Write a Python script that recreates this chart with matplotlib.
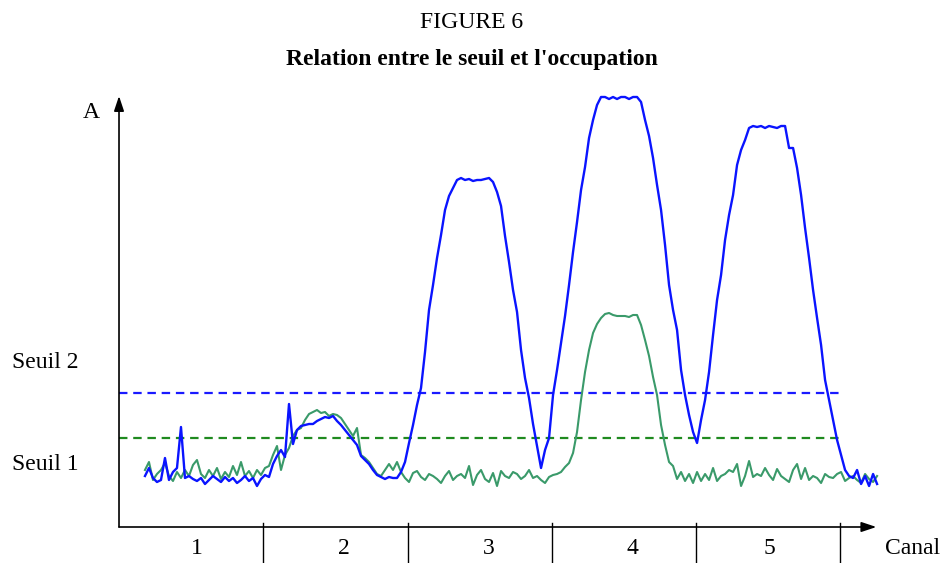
import numpy as np
import matplotlib
matplotlib.use("Agg")
import matplotlib.pyplot as plt

plt.rcParams["font.family"] = ["Liberation Serif", "DejaVu Serif"]

# samples evenly spaced along the canal axis (channel k spans k-1 .. k)
x_start, x_end = 0.18, 5.255

# amplitude, green trace (occupation, seuil 1)
green_a = [
    57, 65, 47, 53, 57, 64, 51, 46, 55, 49,
    57, 51, 62, 67, 53, 49, 57, 51, 59, 48,
    55, 50, 61, 52, 65, 51, 56, 49, 57, 52,
    59, 61, 72, 81, 57, 72, 79, 91, 97, 99,
    107, 113, 115, 117, 114, 115, 111, 113, 112, 109,
    103, 97, 91, 99, 72, 69, 65, 59, 53, 51,
    57, 63, 57, 65, 55, 49, 45, 54, 56, 50,
    47, 53, 51, 48, 44, 51, 56, 47, 51, 53,
    49, 61, 42, 52, 57, 48, 45, 54, 41, 56,
    51, 49, 55, 53, 48, 51, 57, 49, 51, 47,
    44, 50, 52, 53, 55, 60, 64, 74, 95, 127,
    155, 177, 194, 203, 209, 213, 214, 212, 211, 211,
    211, 210, 212, 212, 202, 187, 171, 150, 132, 102,
    82, 65, 61, 48, 55, 46, 53, 44, 55, 46,
    53, 47, 59, 46, 51, 53, 57, 55, 63, 41,
    51, 66, 50, 53, 51, 59, 52, 47, 58, 51,
    48, 45, 57, 63, 48, 59, 47, 51, 49, 44,
    53, 50, 49, 53, 55, 46, 49, 51, 47, 44,
    53, 48, 45, 51,
]

# amplitude, blue trace (seuil 2)
blue_a = [
    51, 59, 49, 45, 47, 69, 47, 55, 59, 100,
    49, 51, 48, 46, 49, 43, 47, 51, 48, 45,
    50, 46, 49, 44, 47, 51, 46, 49, 41, 48,
    52, 50, 63, 71, 77, 70, 123, 83, 97, 101,
    102, 103, 103, 106, 108, 110, 109, 111, 106, 102,
    97, 92, 87, 82, 71, 67, 63, 57, 52, 50,
    48, 50, 49, 49, 55, 65, 84, 102, 122, 139,
    175, 217, 242, 269, 292, 317, 331, 339, 347, 349,
    347, 348, 346, 347, 347, 348, 349, 345, 335, 321,
    291, 265, 237, 215, 177, 149, 129, 103, 81, 59,
    77, 89, 132, 157, 184, 211, 242, 275, 305, 337,
    360, 389, 407, 422, 430, 430, 428, 430, 428, 430,
    430, 428, 430, 430, 425, 407, 391, 369, 342, 317,
    282, 242, 217, 197, 157, 132, 112, 95, 84, 107,
    127, 155, 192, 227, 252, 287, 312, 332, 362, 377,
    387, 399, 401, 400, 401, 399, 401, 400, 399, 401,
    401, 379, 379, 359, 332, 299, 269, 237, 209, 182,
    147, 127, 107, 87, 72, 57, 51, 49, 57, 43,
    51, 41, 53, 43,
]

seuil_1 = 89
seuil_2 = 134
canaux = ["1", "2", "3", "4", "5"]
canal_label_x = [0.54, 1.56, 2.56, 3.56, 4.51]

fig = plt.figure(figsize=(9.43, 5.63), dpi=100)
ax = fig.add_axes([0, 0, 1, 1])
ax.set_xlim(-0.825, 5.712)
ax.set_ylim(-36, 527)
ax.axis("off")

xg = np.linspace(x_start, x_end, len(green_a))
xb = np.linspace(x_start, x_end, len(blue_a))

# thresholds
ax.plot([0, 5.0], [seuil_2, seuil_2], color="#1a1aff", lw=1.6,
        dashes=(3.8, 2.6), zorder=1)
ax.plot([0, 4.99], [seuil_1, seuil_1], color="#1f8a1f", lw=1.6,
        dashes=(3.8, 2.6), zorder=1)

ax.plot(xg, green_a, color="#3a9a6a", lw=1.5, zorder=2)
ax.plot(xb, blue_a, color="#0a14ff", lw=1.7, zorder=3)

# axes with arrows
ax.annotate("", xy=(5.25, 0), xytext=(0, 0),
            arrowprops=dict(arrowstyle="-|>,head_length=0.9,head_width=0.3",
                            color="black", lw=1.2, shrinkA=0, shrinkB=0))
ax.annotate("", xy=(0, 431), xytext=(0, 0),
            arrowprops=dict(arrowstyle="-|>,head_length=0.9,head_width=0.3",
                            color="black", lw=1.2, shrinkA=0, shrinkB=0))

# channel separators and labels
for k in range(1, 6):
    ax.plot([k, k], [4, -36], color="black", lw=1.0, clip_on=False)
for lab, xl in zip(canaux, canal_label_x):
    ax.text(xl, -22, lab, ha="center", va="center", fontsize=17)

ax.text(5.31, -22, "Canal", ha="left", va="center", fontsize=17)
ax.text(-0.19, 415, "A", ha="center", va="center", fontsize=17)
ax.text(-0.74, 164, "Seuil 2", ha="left", va="center", fontsize=17)
ax.text(-0.74, 62, "Seuil 1", ha="left", va="center", fontsize=17)

fig.text(0.5, 1 - 22 / 563, "FIGURE 6", ha="center", va="center", fontsize=17)
fig.text(0.5, 1 - 60 / 563, "Relation entre le seuil et l'occupation",
         ha="center", va="center", fontsize=17, fontweight="bold")

fig.savefig("out.png", dpi=100)
